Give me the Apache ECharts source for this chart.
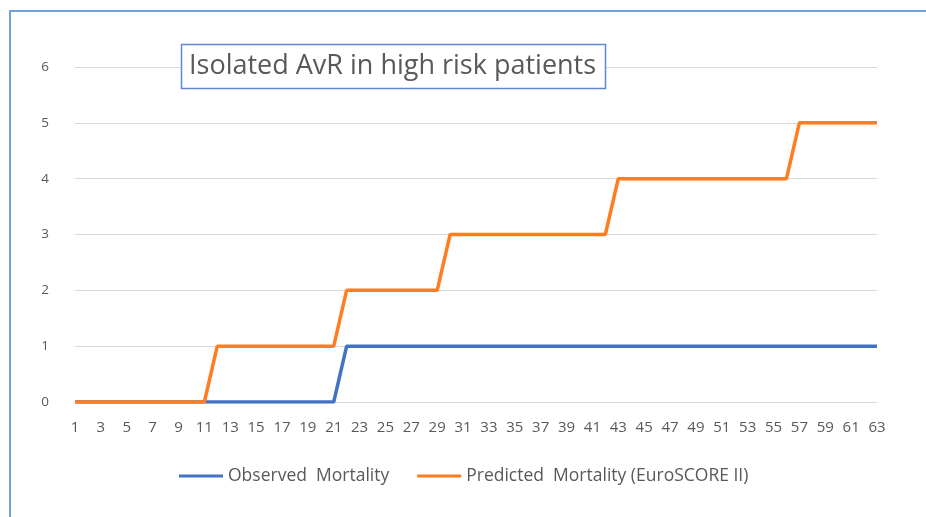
<!DOCTYPE html>
<html>
<head>
<meta charset="utf-8">
<script src="https://cdn.jsdelivr.net/npm/echarts@6/dist/echarts.min.js"></script>
<style>
html,body{margin:0;padding:0;background:#fff;}
#chart{width:926px;height:517px;}
</style>
</head>
<body>
<div id="chart"></div>
<script>
const categories = [];
for (let i = 1; i <= 63; i++) categories.push(String(i));

// Observed: 0 for patients 1-21, 1 from 22-63
const observedMortality = [
  0,0,0,0,0,0,0,0,0,0,
  0,0,0,0,0,0,0,0,0,0,
  0,1,1,1,1,1,1,1,1,1,
  1,1,1,1,1,1,1,1,1,1,
  1,1,1,1,1,1,1,1,1,1,
  1,1,1,1,1,1,1,1,1,1,
  1,1,1
];
// Predicted: 0 (1-11), 1 (12-21), 2 (22-29), 3 (30-42), 4 (43-56), 5 (57-63)
const predictedMortality = [
  0,0,0,0,0,0,0,0,0,0,
  0,1,1,1,1,1,1,1,1,1,
  1,2,2,2,2,2,2,2,2,3,
  3,3,3,3,3,3,3,3,3,3,
  3,3,4,4,4,4,4,4,4,4,
  4,4,4,4,4,4,5,5,5,5,
  5,5,5
];
const seriesNames = ['Observed  Mortality', 'Predicted  Mortality (EuroSCORE II)'];
const chartTitle = 'Isolated AvR in high risk patients';

const chart = echarts.init(document.getElementById('chart'));
const font = 'Open Sans, Liberation Sans, sans-serif';
chart.setOption({
  backgroundColor: '#fff',
  animation: false,
  graphic: [
    { type: 'rect', shape: { x: 10, y: 11, width: 940, height: 540 },
      style: { fill: 'none', stroke: '#6fa3dc', lineWidth: 2 }, z: 100 },
    { type: 'rect', shape: { x: 181.5, y: 44.5, width: 424, height: 44 },
      style: { fill: '#fff', stroke: '#5f86cf', lineWidth: 1.5 }, z: 100 },
    { type: 'text', x: 189, y: 66, z: 101,
      style: { text: chartTitle, fill: '#595959', font: '27px ' + font,
               textVerticalAlign: 'middle', textAlign: 'left' } }
  ],
  grid: { left: 75, right: 49, top: 67, bottom: 115, containLabel: false },
  legend: {
    top: 462, left: 174,
    itemGap: 28,
    itemWidth: 44, itemHeight: 3,
    icon: 'rect',
    textStyle: { color: '#595959', fontSize: 17.5, fontFamily: font },
    data: seriesNames
  },
  xAxis: {
    type: 'category',
    data: categories,
    boundaryGap: false,
    axisLine: { show: false },
    axisTick: { show: false },
    axisLabel: { interval: 1, color: '#595959', fontSize: 15, fontFamily: font, margin: 18 }
  },
  yAxis: {
    type: 'value',
    min: 0, max: 6, interval: 1,
    axisLine: { show: false },
    axisTick: { show: false },
    axisLabel: { color: '#595959', fontSize: 13.5, fontFamily: font, margin: 26 },
    splitLine: { lineStyle: { color: '#d9d9d9', width: 1 } }
  },
  series: [
    { name: seriesNames[0], type: 'line', data: observedMortality, showSymbol: false,
      color: '#4472c4', lineStyle: { width: 3.5, color: '#4472c4' } },
    { name: seriesNames[1], type: 'line', data: predictedMortality, showSymbol: false,
      color: '#ff7d1f', lineStyle: { width: 3.5, color: '#ff7d1f' } }
  ]
});
</script>
</body>
</html>
